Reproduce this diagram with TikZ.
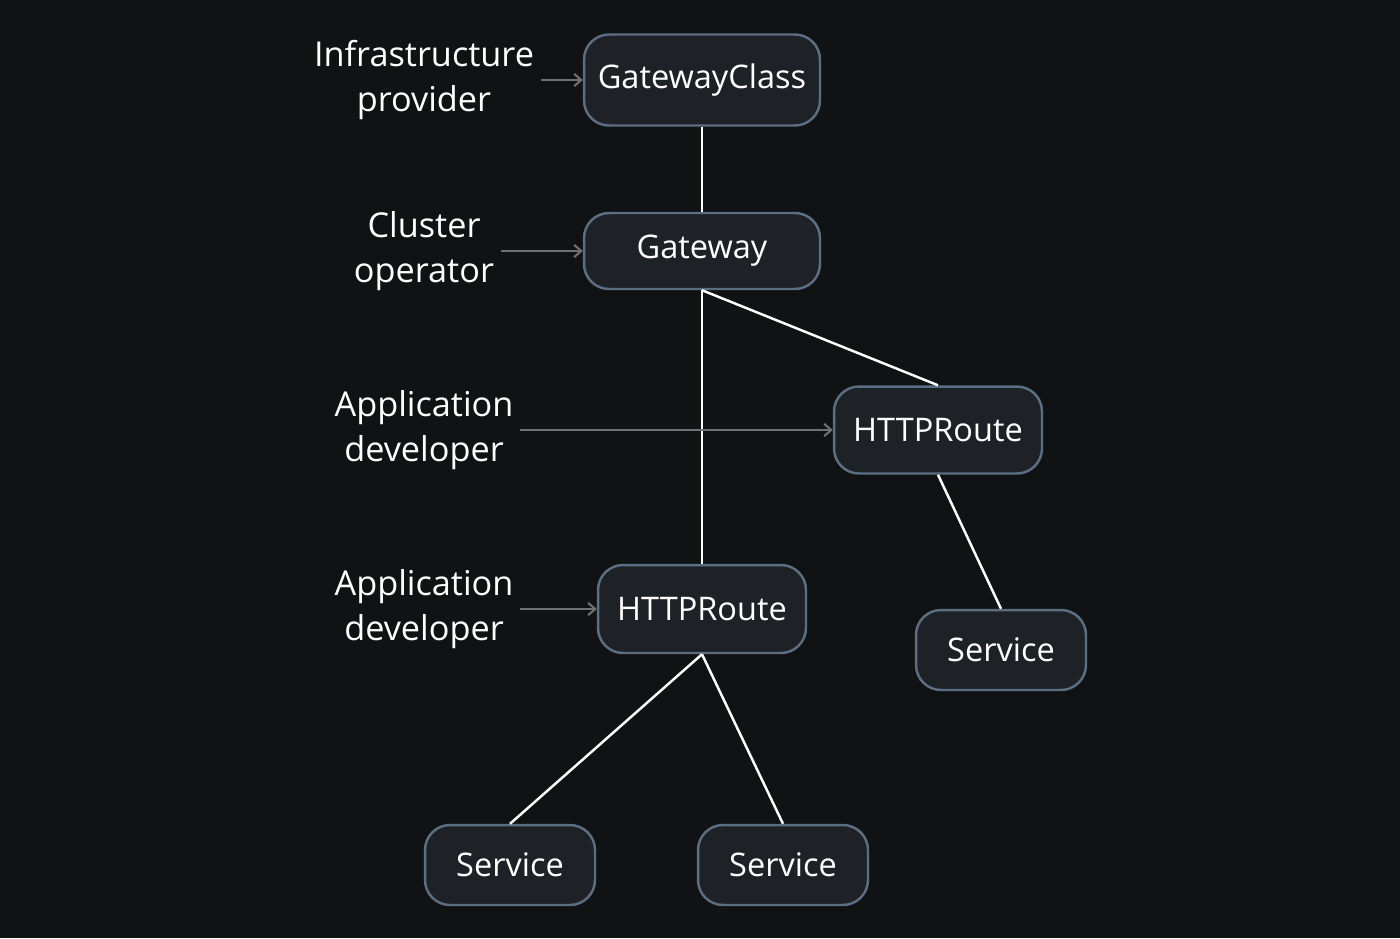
\documentclass[tikz,border=0pt]{standalone}
\usepackage{fontspec}
\setmainfont{Open Sans}
\usetikzlibrary{arrows.meta}
\definecolor{bgcol}{HTML}{111213}
\definecolor{boxfill}{HTML}{1E2226}
\definecolor{boxline}{HTML}{5A6E84}
\definecolor{arrcol}{HTML}{707070}
\begin{document}
\begin{tikzpicture}[x=0.02cm,y=-0.02cm,thick,
  box/.style={draw=boxline,line width=1.4pt,fill=boxfill,rounded corners=0.5cm,
    text=white,font=\fontsize{18.5}{22}\selectfont,inner sep=0pt},
  role/.style={text=white,font=\fontsize{19.5}{26}\selectfont,align=center},
  link/.style={white,line width=1.4pt},
  assign/.style={arrcol,line width=1.2pt,-{Straight Barb[length=4pt,width=7pt]}}]
  \fill[bgcol] (0,0) rectangle (1400,938);
  % ressources
  \node[box,minimum width=4.72cm,minimum height=1.82cm] (gc) at (702,80) {GatewayClass};
  \node[box,minimum width=4.72cm,minimum height=1.52cm] (gw) at (702,251) {Gateway};
  \node[box,minimum width=4.16cm,minimum height=1.74cm] (hrb) at (938,430) {HTTPRoute};
  \node[box,minimum width=4.16cm,minimum height=1.76cm] (hra) at (702,609) {HTTPRoute};
  \node[box,minimum width=3.4cm,minimum height=1.6cm] (svc) at (1001,650) {Service};
  \node[box,minimum width=3.4cm,minimum height=1.6cm] (sva) at (510,865) {Service};
  \node[box,minimum width=3.4cm,minimum height=1.6cm] (svb) at (783,865) {Service};
  % roles
  \node[role] (infra) at (424,80) {Infrastructure\\provider};
  \node[role] (ops) at (424,251) {Cluster\\operator};
  \node[role] (devb) at (424,430) {Application\\developer};
  \node[role] (deva) at (424,609) {Application\\developer};
  % liens
  \draw[link] (gc.south) -- (gw.north);
  \draw[link] (gw.south) -- (hrb.north);
  \draw[link] (gw.south) -- (hra.north);
  \draw[link] (hrb.south) -- (svc.north);
  \draw[link] (hra.south) -- (sva.north);
  \draw[link] (hra.south) -- (svb.north);
  % fleches
  \draw[assign] (infra.east) -- (gc.west);
  \draw[assign] (ops.east) -- (gw.west);
  \draw[assign] (devb.east) -- (hrb.west);
  \draw[assign] (deva.east) -- (hra.west);
\end{tikzpicture}
\end{document}
